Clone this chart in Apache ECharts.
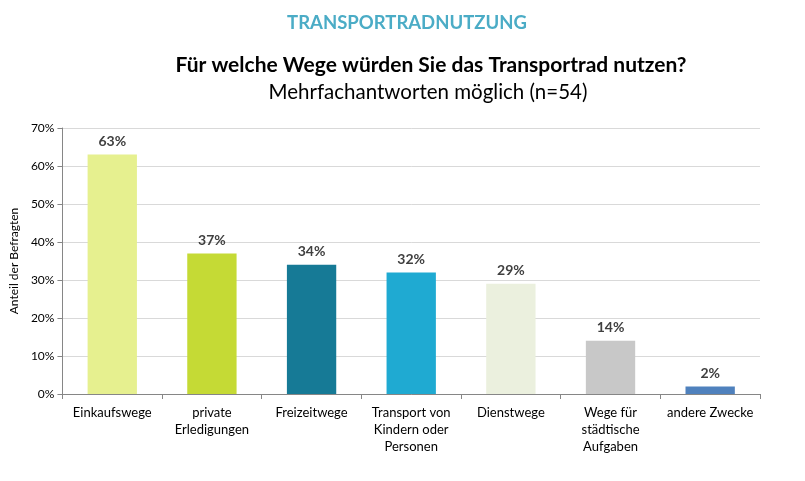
<!DOCTYPE html>
<html>
<head>
  <meta charset="UTF-8">
  <title>Transportradnutzung</title>
  <script src="https://cdn.jsdelivr.net/npm/echarts@6/dist/echarts.min.js"></script>
  <style>
    html, body { margin: 0; padding: 0; background: #fff; }
    #main { width: 805px; height: 481px; }
  </style>
</head>
<body>
  <div id="main"></div>
  <script>
    // Kategorien und Werte (Anteil in %)
    var categories = ['Einkaufswege', 'private\nErledigungen', 'Freizeitwege', 'Transport von\nKindern oder\nPersonen', 'Dienstwege', 'Wege für\nstädtische\nAufgaben', 'andere Zwecke'];
    var values = [63, 37, 34, 32, 29, 14, 2];
    var barColors = ['#E6F08F', '#C5DA35', '#167A96', '#1FAAD2', '#EBF0DE', '#C8C8C8', '#4F81BD'];

    var font = 'Lato, "Open Sans", sans-serif';
    var myChart = echarts.init(document.getElementById('main'));
    var option = {
      backgroundColor: '#fff',
      animation: false,
      title: [
        {
          text: 'TRANSPORTRADNUTZUNG',
          left: 402, top: 9, textAlign: 'center',
          textStyle: { color: '#4BACC6', fontSize: 18.5, fontWeight: 'bold', fontFamily: font }
        },
        {
          text: 'Für welche Wege würden Sie das Transportrad nutzen?',
          left: 426, top: 50, textAlign: 'center',
          textStyle: { color: '#000', fontSize: 21, fontWeight: 'bold', fontFamily: font }
        },
        {
          text: 'Mehrfachantworten möglich (n=54)',
          left: 423, top: 77, textAlign: 'center',
          textStyle: { color: '#000', fontSize: 20.5, fontWeight: 'normal', fontFamily: font }
        }
      ],
      grid: { left: 59, right: 45, top: 128, bottom: 87, containLabel: false },
      xAxis: {
        type: 'category',
        data: categories,
        axisLine: { lineStyle: { color: '#868686' } },
        axisTick: { show: true, alignWithLabel: false, length: 5, lineStyle: { color: '#868686' } },
        axisLabel: { color: '#000', fontSize: 13, fontFamily: font, lineHeight: 17, margin: 10, interval: 0 }
      },
      yAxis: {
        type: 'value',
        min: 0, max: 70, interval: 10,
        name: 'Anteil der Befragten',
        nameLocation: 'middle',
        nameGap: 38,
        nameRotate: 90,
        nameTextStyle: { color: '#000', fontSize: 12, fontFamily: font },
        axisLine: { show: true, lineStyle: { color: '#868686' } },
        axisTick: { show: true, length: 5, lineStyle: { color: '#868686' } },
        axisLabel: { color: '#000', fontSize: 12, fontFamily: font, formatter: '{value}%', margin: 8 },
        splitLine: { lineStyle: { color: '#D9D9D9' } }
      },
      series: [{
        type: 'bar',
        data: values.map(function (v, i) { return { value: v, itemStyle: { color: barColors[i] } }; }),
        barWidth: '49.5%',
        label: {
          show: true, position: 'top', distance: 6,
          formatter: '{c}%',
          color: '#404040', fontSize: 14, fontWeight: 'bold', fontFamily: font
        }
      }]
    };
    myChart.setOption(option);
  </script>
</body>
</html>
